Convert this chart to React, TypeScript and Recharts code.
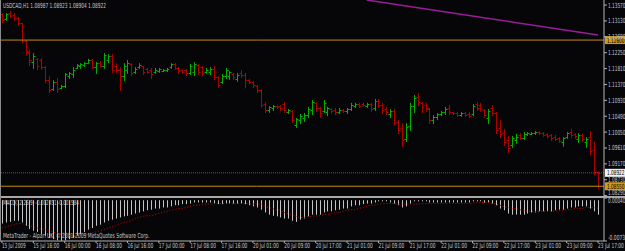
import React from "react";
import { ComposedChart, Bar, Line, XAxis, YAxis, ReferenceLine } from "recharts";

// hourly USDCAD bars, 15 Jul 2009 08:00 .. 23 Jul 2009 17:00
const timeLabels = [
  "15 Jul 2009", "15 Jul 16:00", "16 Jul 00:00", "16 Jul 08:00", "16 Jul 16:00",
  "17 Jul 00:00", "17 Jul 08:00", "17 Jul 16:00", "20 Jul 01:00", "20 Jul 09:00",
  "20 Jul 17:00", "21 Jul 01:00", "21 Jul 09:00", "21 Jul 17:00", "22 Jul 01:00",
  "22 Jul 09:00", "22 Jul 17:00", "23 Jul 01:00", "23 Jul 09:00", "23 Jul 17:00",
];

const opens = [
  1.1332, 1.1318, 1.1335, 1.1329, 1.1321, 1.1307, 1.1257, 1.1227, 1.1199, 1.1208,
  1.1205, 1.1185, 1.1149, 1.1124, 1.1144, 1.1127, 1.1133, 1.1160, 1.1166, 1.1183,
  1.1188, 1.1191, 1.1196, 1.1205, 1.1185, 1.1196, 1.1188, 1.1205, 1.1216, 1.1188,
  1.1177, 1.1160, 1.1177, 1.1194, 1.1172, 1.1185, 1.1188, 1.1180, 1.1177, 1.1172,
  1.1174, 1.1174, 1.1177, 1.1185, 1.1194, 1.1183, 1.1177, 1.1177, 1.1169, 1.1172,
  1.1191, 1.1185, 1.1172, 1.1172, 1.1180, 1.1158, 1.1144, 1.1160, 1.1160, 1.1166,
  1.1152, 1.1169, 1.1163, 1.1149, 1.1144, 1.1133, 1.1122, 1.1083, 1.1066, 1.1072,
  1.1077, 1.1077, 1.1083, 1.1061, 1.1064, 1.1025, 1.1039, 1.1044, 1.1052, 1.1066,
  1.1086, 1.1072, 1.1064, 1.1061, 1.1069, 1.1066, 1.1061, 1.1066, 1.1064, 1.1069,
  1.1077, 1.1083, 1.1083, 1.1077, 1.1083, 1.1072, 1.1091, 1.1080, 1.1069, 1.1055,
  1.1064, 1.1033, 1.1016, 1.0986, 1.1022, 1.1077, 1.1102, 1.1086, 1.1080, 1.1069,
  1.1039, 1.1047, 1.1055, 1.1061, 1.1072, 1.1061, 1.1058, 1.1052, 1.1058, 1.1055,
  1.1055, 1.1083, 1.1080, 1.1066, 1.1044, 1.1072, 1.1058, 1.1016, 1.1002, 1.0983,
  1.0969, 1.0983, 1.0997, 1.0989, 1.1000, 1.1000, 1.1002, 1.1005, 1.1002, 1.1000,
  1.0997, 1.0991, 1.0989, 1.0978, 1.0991, 1.1005, 1.1000, 1.0986, 1.0997, 1.0978,
  1.0991, 1.0956, 1.0895,
];

const highs = [
  1.1335, 1.1335, 1.1341, 1.1335, 1.1324, 1.1307, 1.1260, 1.1233, 1.1224, 1.1210,
  1.1210, 1.1188, 1.1160, 1.1149, 1.1155, 1.1136, 1.1169, 1.1172, 1.1185, 1.1194,
  1.1196, 1.1199, 1.1208, 1.1208, 1.1199, 1.1202, 1.1224, 1.1221, 1.1221, 1.1196,
  1.1185, 1.1196, 1.1205, 1.1196, 1.1185, 1.1196, 1.1188, 1.1183, 1.1183, 1.1183,
  1.1183, 1.1180, 1.1183, 1.1196, 1.1196, 1.1185, 1.1180, 1.1180, 1.1194, 1.1199,
  1.1194, 1.1188, 1.1183, 1.1185, 1.1188, 1.1160, 1.1166, 1.1183, 1.1174, 1.1169,
  1.1169, 1.1177, 1.1169, 1.1152, 1.1147, 1.1136, 1.1124, 1.1088, 1.1077, 1.1080,
  1.1080, 1.1080, 1.1088, 1.1069, 1.1066, 1.1044, 1.1055, 1.1058, 1.1075, 1.1094,
  1.1088, 1.1075, 1.1094, 1.1075, 1.1072, 1.1072, 1.1072, 1.1069, 1.1072, 1.1086,
  1.1086, 1.1086, 1.1086, 1.1086, 1.1086, 1.1097, 1.1097, 1.1086, 1.1075, 1.1069,
  1.1069, 1.1039, 1.1030, 1.1030, 1.1086, 1.1108, 1.1113, 1.1088, 1.1086, 1.1072,
  1.1052, 1.1058, 1.1064, 1.1075, 1.1080, 1.1061, 1.1061, 1.1061, 1.1061, 1.1061,
  1.1083, 1.1088, 1.1086, 1.1069, 1.1069, 1.1080, 1.1061, 1.1039, 1.1014, 1.0994,
  1.0994, 1.1000, 1.1002, 1.1005, 1.1005, 1.1005, 1.1008, 1.1008, 1.1005, 1.1002,
  1.1000, 1.0997, 1.0991, 1.0991, 1.1005, 1.1014, 1.1002, 1.1002, 1.1000, 1.0991,
  1.1008, 1.0978, 1.0897,
];

const lows = [
  1.1310, 1.1316, 1.1324, 1.1316, 1.1302, 1.1252, 1.1219, 1.1191, 1.1183, 1.1180,
  1.1180, 1.1144, 1.1116, 1.1122, 1.1116, 1.1127, 1.1130, 1.1155, 1.1158, 1.1183,
  1.1183, 1.1188, 1.1196, 1.1183, 1.1169, 1.1185, 1.1183, 1.1199, 1.1172, 1.1172,
  1.1122, 1.1149, 1.1169, 1.1163, 1.1169, 1.1183, 1.1166, 1.1169, 1.1155, 1.1169,
  1.1172, 1.1174, 1.1174, 1.1183, 1.1180, 1.1169, 1.1169, 1.1163, 1.1166, 1.1163,
  1.1166, 1.1163, 1.1169, 1.1166, 1.1152, 1.1130, 1.1141, 1.1155, 1.1152, 1.1152,
  1.1147, 1.1158, 1.1130, 1.1141, 1.1130, 1.1116, 1.1075, 1.1061, 1.1061, 1.1066,
  1.1072, 1.1066, 1.1061, 1.1058, 1.1033, 1.1019, 1.1030, 1.1036, 1.1047, 1.1055,
  1.1064, 1.1047, 1.1061, 1.1052, 1.1058, 1.1055, 1.1058, 1.1061, 1.1058, 1.1066,
  1.1075, 1.1075, 1.1077, 1.1075, 1.1064, 1.1066, 1.1075, 1.1058, 1.1055, 1.1047,
  1.1025, 1.1002, 1.0967, 1.0980, 1.1011, 1.1061, 1.1080, 1.1061, 1.1064, 1.1030,
  1.1030, 1.1041, 1.1052, 1.1055, 1.1055, 1.1055, 1.1050, 1.1050, 1.1050, 1.1047,
  1.1052, 1.1066, 1.1064, 1.1047, 1.1030, 1.1052, 1.1002, 1.0991, 1.0969, 1.0950,
  1.0964, 1.0975, 1.0986, 1.0986, 1.0997, 1.1000, 1.1000, 1.1000, 1.0994, 1.0991,
  1.0983, 1.0983, 1.0978, 1.0967, 1.0989, 1.0991, 1.0989, 1.0978, 1.0980, 1.0964,
  1.0944, 1.0889, 1.0850,
];

const closes = [
  1.1316, 1.1332, 1.1327, 1.1321, 1.1307, 1.1257, 1.1230, 1.1205, 1.1216, 1.1188,
  1.1185, 1.1149, 1.1122, 1.1144, 1.1124, 1.1133, 1.1166, 1.1169, 1.1177, 1.1191,
  1.1194, 1.1196, 1.1205, 1.1185, 1.1196, 1.1188, 1.1219, 1.1216, 1.1177, 1.1177,
  1.1160, 1.1188, 1.1196, 1.1169, 1.1180, 1.1191, 1.1172, 1.1172, 1.1166, 1.1177,
  1.1180, 1.1177, 1.1180, 1.1194, 1.1183, 1.1174, 1.1172, 1.1169, 1.1188, 1.1194,
  1.1172, 1.1169, 1.1177, 1.1180, 1.1158, 1.1136, 1.1160, 1.1177, 1.1172, 1.1158,
  1.1163, 1.1163, 1.1149, 1.1144, 1.1136, 1.1122, 1.1080, 1.1066, 1.1075, 1.1077,
  1.1075, 1.1072, 1.1066, 1.1066, 1.1039, 1.1041, 1.1050, 1.1052, 1.1069, 1.1088,
  1.1072, 1.1058, 1.1086, 1.1072, 1.1064, 1.1061, 1.1066, 1.1064, 1.1069, 1.1080,
  1.1083, 1.1077, 1.1080, 1.1083, 1.1069, 1.1091, 1.1080, 1.1066, 1.1061, 1.1064,
  1.1030, 1.1011, 1.0983, 1.1019, 1.1077, 1.1100, 1.1088, 1.1075, 1.1072, 1.1039,
  1.1047, 1.1055, 1.1061, 1.1069, 1.1061, 1.1058, 1.1052, 1.1058, 1.1052, 1.1050,
  1.1077, 1.1072, 1.1069, 1.1052, 1.1064, 1.1058, 1.1011, 1.1000, 1.0978, 1.0961,
  1.0989, 1.0991, 1.0989, 1.1000, 1.1002, 1.1002, 1.1005, 1.1002, 1.0997, 1.0994,
  1.0989, 1.0986, 1.0980, 1.0989, 1.1002, 1.0997, 1.0994, 1.0997, 1.0986, 1.0986,
  1.0953, 1.0895, 1.0892,
];

// MACD(12,26,9): main line (histogram) and signal (dotted)
const macdMain = [
  -0.0042, -0.0040, -0.0039, -0.0037, -0.0037, -0.0040, -0.0046, -0.0052, -0.0055, -0.0057,
  -0.0061, -0.0064, -0.0068, -0.0070, -0.0072, -0.0073, -0.0072, -0.0070, -0.0068, -0.0064,
  -0.0061, -0.0057, -0.0053, -0.0050, -0.0046, -0.0044, -0.0040, -0.0037, -0.0035, -0.0033,
  -0.0031, -0.0029, -0.0028, -0.0026, -0.0024, -0.0022, -0.0020, -0.0018, -0.0017, -0.0015,
  -0.0015, -0.0013, -0.0013, -0.0011, -0.0009, -0.0009, -0.0007, -0.0007, -0.0006, -0.0004,
  -0.0004, -0.0004, -0.0004, -0.0004, -0.0006, -0.0007, -0.0007, -0.0006, -0.0006, -0.0006,
  -0.0006, -0.0006, -0.0007, -0.0009, -0.0011, -0.0013, -0.0017, -0.0022, -0.0026, -0.0028,
  -0.0029, -0.0031, -0.0033, -0.0033, -0.0037, -0.0039, -0.0035, -0.0033, -0.0029, -0.0026,
  -0.0026, -0.0026, -0.0022, -0.0020, -0.0020, -0.0018, -0.0017, -0.0015, -0.0015, -0.0011,
  -0.0009, -0.0009, -0.0007, -0.0006, -0.0006, -0.0004, -0.0002, -0.0002, -0.0002, -0.0004,
  -0.0006, -0.0009, -0.0013, -0.0011, -0.0006, -0.0002, -0.0002, -0.0002, -0.0002, -0.0004,
  -0.0004, -0.0004, -0.0004, -0.0004, -0.0004, -0.0004, -0.0004, -0.0004, -0.0004, -0.0004,
  -0.0002, -0.0002, -0.0002, -0.0004, -0.0004, -0.0006, -0.0009, -0.0015, -0.0018, -0.0024,
  -0.0026, -0.0026, -0.0026, -0.0026, -0.0024, -0.0022, -0.0022, -0.0020, -0.0020, -0.0020,
  -0.0020, -0.0018, -0.0017, -0.0017, -0.0015, -0.0013, -0.0013, -0.0011, -0.0011, -0.0011,
  -0.0015, -0.0020, -0.0026,
];

const macdSignal = [
  -0.0050, -0.0048, -0.0046, -0.0044, -0.0042, -0.0042, -0.0044, -0.0046, -0.0048, -0.0050,
  -0.0052, -0.0053, -0.0055, -0.0057, -0.0059, -0.0061, -0.0063, -0.0063, -0.0064, -0.0064,
  -0.0064, -0.0063, -0.0061, -0.0059, -0.0057, -0.0055, -0.0053, -0.0050, -0.0048, -0.0046,
  -0.0042, -0.0040, -0.0039, -0.0037, -0.0033, -0.0031, -0.0029, -0.0028, -0.0028, -0.0026,
  -0.0024, -0.0022, -0.0020, -0.0018, -0.0017, -0.0015, -0.0015, -0.0013, -0.0011, -0.0009,
  -0.0009, -0.0007, -0.0007, -0.0007, -0.0006, -0.0006, -0.0006, -0.0006, -0.0006, -0.0006,
  -0.0006, -0.0006, -0.0006, -0.0006, -0.0007, -0.0007, -0.0007, -0.0011, -0.0013, -0.0015,
  -0.0017, -0.0018, -0.0022, -0.0024, -0.0026, -0.0029, -0.0031, -0.0031, -0.0029, -0.0029,
  -0.0028, -0.0028, -0.0026, -0.0026, -0.0024, -0.0022, -0.0022, -0.0020, -0.0018, -0.0017,
  -0.0017, -0.0015, -0.0013, -0.0011, -0.0009, -0.0009, -0.0007, -0.0006, -0.0006, -0.0006,
  -0.0006, -0.0007, -0.0007, -0.0007, -0.0007, -0.0007, -0.0007, -0.0006, -0.0006, -0.0006,
  -0.0006, -0.0006, -0.0006, -0.0006, -0.0006, -0.0006, -0.0006, -0.0006, -0.0006, -0.0006,
  -0.0006, -0.0004, -0.0004, -0.0004, -0.0004, -0.0006, -0.0007, -0.0009, -0.0011, -0.0013,
  -0.0015, -0.0015, -0.0017, -0.0018, -0.0020, -0.0020, -0.0020, -0.0020, -0.0020, -0.0020,
  -0.0020, -0.0020, -0.0018, -0.0018, -0.0017, -0.0017, -0.0015, -0.0015, -0.0015, -0.0013,
  -0.0013, -0.0013, -0.0015,
];

const priceTicks = [
  1.1357, 1.1313, 1.1269, 1.1225, 1.1181, 1.1137, 1.1093,
  1.1049, 1.1005, 1.0961, 1.0917, 1.0873, 1.0829,
];
const macdTicks = [0.0004, -0.00734];

const upperLevel = 1.126;
const lowerLevel = 1.0855;
const bidPrice = 1.08922;
const trendLine = [
  { x: 93, y: 1.1371 },
  { x: 152, y: 1.1274 },
];

const headerText = "USDCAD,H1  1.08987 1.08923 1.08904 1.08922";
const macdText = "MACD(12,26,9) -0.002451 -0.001584";
const copyText = "MetaTrader - Alpari UK, \u00a9 2001-2009 MetaQuotes Software Corp.";

const BG = "#060608";
const UP = "#00b000";
const DOWN = "#b00000";
const AXIS = "#b4b4b4";
const TEXT = "#c8c8c8";
const LEVEL = "#c08a10";
const FONT = "'DejaVu Sans', sans-serif";

const rows = opens.map((o, i) => ({
  i,
  o,
  h: highs[i],
  l: lows[i],
  c: closes[i],
  range: [lows[i], highs[i]],
  macd: macdMain[i],
  signal: macdSignal[i],
}));

const Tiny = ({ x, y, text, fill = TEXT, per = 2.45 }: any) => (
  <text
    x={x}
    y={y}
    fill={fill}
    fontSize={7}
    fontFamily={FONT}
    textLength={text.length * per}
    lengthAdjust="spacingAndGlyphs"
  >
    {text}
  </text>
);

const OhlcShape = (props: any) => {
  const { x, y, width, height, payload } = props;
  const top = Math.min(y, y + height);
  const span = Math.abs(height);
  const { o, h, l, c } = payload;
  const cx = Math.round(x + width / 2) + 0.5;
  const toY = (v: number) => top + ((h - v) / (h - l || 1)) * span;
  const yo = Math.round(toY(o)) + 0.5;
  const yc = Math.round(toY(c)) + 0.5;
  return (
    <g stroke={c >= o ? UP : DOWN} strokeWidth={1}>
      <line x1={cx} x2={cx} y1={top} y2={top + span + 1} />
      <line x1={cx - 2} x2={cx} y1={yo} y2={yo} />
      <line x1={cx} x2={cx + 2} y1={yc} y2={yc} />
    </g>
  );
};

const HistShape = (props: any) => {
  const { x, y, width, height } = props;
  const top = Math.min(y, y + height);
  return <rect x={Math.round(x + width / 2)} y={top} width={1} height={Math.abs(height)} fill="#c4c4c4" />;
};

const PriceTick = ({ x, y, payload }: any) => (
  <Tiny x={x} y={Math.min(y, 192) + 2.5} text={payload.value.toFixed(5)} per={2.5} />
);

const MacdTick = ({ x, y, payload }: any) => (
  <Tiny x={x} y={payload.value > 0 ? y + 5 : y - 1} text={payload.value.toFixed(5)} per={2.5} />
);

const TimeTick = ({ x, y, payload }: any) => (
  <Tiny x={x} y={y + 5} text={timeLabels[payload.value / 8] ?? ""} per={2.15} />
);

const Tag = ({ viewBox, text, bg, fg }: any) => {
  const left = viewBox.x + viewBox.width;
  return (
    <g>
      <rect x={left + 1} y={viewBox.y - 4} width={21} height={8} fill={bg} />
      <Tiny x={left + 3} y={viewBox.y + 2.5} text={text} fill={fg} per={2.5} />
    </g>
  );
};

export default function App() {
  return (
    <div style={{ position: "absolute", left: 0, top: 0, width: 625, height: 251, background: BG, overflow: "hidden" }}>
      <div style={{ position: "absolute", left: 0, top: 0 }}>
        <ComposedChart width={625} height={196} data={rows} margin={{ top: 0, right: 0, bottom: 0, left: 0 }} barCategoryGap={0}>
          <XAxis dataKey="i" type="category" hide padding={{ left: 0, right: 4 }} />
          <YAxis
            orientation="right"
            type="number"
            width={21}
            domain={[1.0828, 1.1371]}
            allowDataOverflow
            ticks={priceTicks}
            interval={0}
            tickSize={3}
            tickMargin={1}
            tick={<PriceTick />}
            tickLine={{ stroke: AXIS }}
            axisLine={{ stroke: AXIS }}
          />
          <ReferenceLine y={bidPrice} stroke="#5a5a5a" strokeDasharray="1 1" label={<Tag text="1.08922" bg="#f0f0f0" fg="#000" />} />
          <ReferenceLine y={upperLevel} stroke={LEVEL} label={<Tag text="1.12600" bg="#d29a1a" fg="#000" />} />
          <ReferenceLine y={lowerLevel} stroke={LEVEL} label={<Tag text="1.08550" bg="#d29a1a" fg="#000" />} />
          <ReferenceLine segment={trendLine} stroke="#9a1c9a" strokeWidth={1.5} />
          <Bar dataKey="range" shape={<OhlcShape />} isAnimationActive={false} />
        </ComposedChart>
      </div>
      <div style={{ position: "absolute", left: 0, top: 196, width: 625, height: 2, background: "#a8a8a8" }} />
      <div style={{ position: "absolute", left: 0, top: 198 }}>
        <ComposedChart width={625} height={53} data={rows} margin={{ top: 0, right: 0, bottom: 0, left: 0 }} barCategoryGap={0}>
          <XAxis
            dataKey="i"
            type="category"
            padding={{ left: 0, right: 4 }}
            interval={7}
            height={10}
            tickSize={2}
            tickMargin={0}
            tick={<TimeTick />}
            tickLine={{ stroke: AXIS }}
            axisLine={{ stroke: AXIS }}
          />
          <YAxis
            orientation="right"
            type="number"
            width={21}
            domain={[-0.00734, 0.0004]}
            allowDataOverflow
            ticks={macdTicks}
            interval={0}
            tickSize={3}
            tickMargin={1}
            tick={<MacdTick />}
            tickLine={{ stroke: AXIS }}
            axisLine={{ stroke: AXIS }}
          />
          <Bar dataKey="macd" shape={<HistShape />} isAnimationActive={false} />
          <Line dataKey="signal" type="linear" stroke="#d40000" strokeDasharray="1 2" dot={false} isAnimationActive={false} />
        </ComposedChart>
      </div>
      <svg width={625} height={251} style={{ position: "absolute", left: 0, top: 0, pointerEvents: "none" }}>
        <line x1={0.5} x2={0.5} y1={0} y2={241} stroke="#8c8c8c" />
        <Tiny x={3} y={8} text={headerText} per={2.45} />
        <Tiny x={3} y={205} text={macdText} per={2.3} />
        <Tiny x={3} y={238} text={copyText} per={2.4} />
      </svg>
    </div>
  );
}
